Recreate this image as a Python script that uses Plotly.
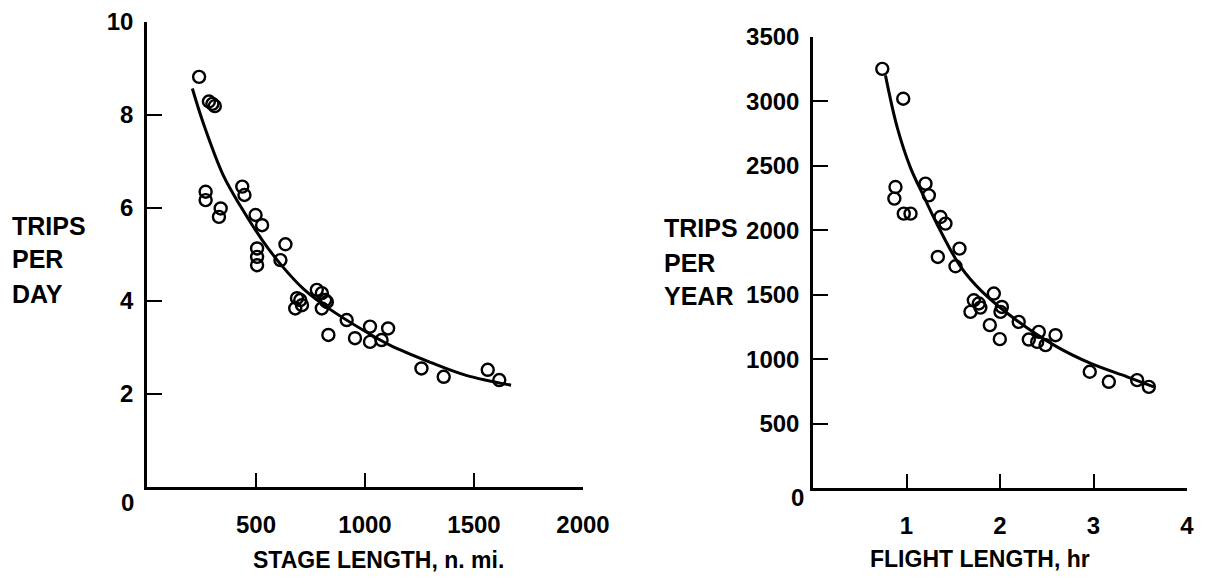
import plotly.graph_objects as go

# ---- Left panel data: trips per day vs stage length ----
stage_x = [239, 284, 300, 311, 269, 269, 338, 330, 437, 447, 498, 528, 505, 505, 505,
           635, 612, 688, 703, 680, 711, 779, 802, 817, 802, 825, 832, 916, 1023, 1106,
           954, 1023, 1076, 1259, 1361, 1563, 1616]
trips_day = [8.82, 8.29, 8.24, 8.19, 6.35, 6.17, 5.99, 5.81, 6.46, 6.28, 5.85, 5.63, 5.13, 4.95, 4.77,
             5.22, 4.88, 4.06, 4.02, 3.84, 3.91, 4.24, 4.17, 4.02, 3.84, 3.98, 3.27, 3.59, 3.45, 3.41,
             3.20, 3.12, 3.16, 2.55, 2.37, 2.52, 2.30]
curve_stage_x = [208, 260, 350, 430, 530, 620, 720, 840, 1000, 1114, 1300, 1464, 1670]
curve_trips_day = [8.57, 7.8, 6.7, 6.03, 5.3, 4.75, 4.25, 3.82, 3.35, 3.05, 2.68, 2.4, 2.19]

# ---- Right panel data: trips per year vs flight length ----
flight_x = [0.741, 0.965, 0.882, 0.870, 0.971, 1.043, 1.203, 1.239, 1.364, 1.417, 1.567, 1.335,
            1.524, 1.934, 1.720, 1.773, 1.684, 1.790, 2.020, 2.005, 1.891, 1.998, 2.200, 2.415,
            2.594, 2.308, 2.398, 2.487, 2.960, 3.164, 3.467, 3.592]
trips_year = [3253, 3021, 2336, 2246, 2129, 2129, 2362, 2271, 2103, 2052, 1858, 1793,
              1721, 1509, 1457, 1432, 1367, 1400, 1405, 1367, 1264, 1155, 1289, 1212,
              1186, 1152, 1134, 1109, 902, 824, 837, 785]
curve_flight_x = [0.775, 0.9, 1.04, 1.19, 1.36, 1.58, 1.8, 2.18, 2.61, 2.97, 3.36, 3.645]
curve_trips_year = [3202, 2800, 2490, 2255, 2000, 1716, 1530, 1300, 1095, 967, 863, 785]

left_xticks = [500, 1000, 1500, 2000]
left_yticks = [2, 4, 6, 8, 10]
right_xticks = [1, 2, 3, 4]
right_yticks = [500, 1000, 1500, 2000, 2500, 3000, 3500]

FONT = "Liberation Sans, Arial, sans-serif"
W, H = 1205, 584
OFF = 8  # page body margin in the browser

def px(x):
    return (x - OFF) / W

def py(y):
    return 1 - (y - OFF) / H

marker = dict(symbol="circle-open", size=12, color="black", line=dict(width=2.4, color="black"))

fig = go.Figure()
fig.add_trace(go.Scatter(x=curve_stage_x, y=curve_trips_day, mode="lines",
                         line=dict(color="black", width=3, shape="spline", smoothing=1.0),
                         xaxis="x", yaxis="y", showlegend=False, hoverinfo="skip"))
fig.add_trace(go.Scatter(x=stage_x, y=trips_day, mode="markers", marker=marker,
                         xaxis="x", yaxis="y", showlegend=False, cliponaxis=False))
fig.add_trace(go.Scatter(x=curve_flight_x, y=curve_trips_year, mode="lines",
                         line=dict(color="black", width=3, shape="spline", smoothing=1.0),
                         xaxis="x2", yaxis="y2", showlegend=False, hoverinfo="skip"))
fig.add_trace(go.Scatter(x=flight_x, y=trips_year, mode="markers", marker=marker,
                         xaxis="x2", yaxis="y2", showlegend=False, cliponaxis=False))

tickfont = dict(family=FONT, size=24, color="black", weight="bold")

def xax(domain, rng, vals, anchor):
    return dict(domain=domain, range=rng, tickvals=vals, ticktext=[str(v) for v in vals],
                showline=True, linecolor="black", linewidth=2.5, ticks="inside", ticklen=14,
                tickwidth=2, tickcolor="black", showgrid=False, zeroline=False,
                tickfont=tickfont, anchor=anchor, ticklabelstandoff=14, fixedrange=True,
                automargin=False)

def yax(domain, rng, vals, anchor):
    return dict(domain=domain, range=rng, tickvals=vals, ticktext=[str(v) for v in vals],
                showline=True, linecolor="black", linewidth=2.5, ticks="inside", ticklen=15,
                tickwidth=2, tickcolor="black", showgrid=False, zeroline=False,
                tickfont=tickfont, anchor=anchor, ticklabelstandoff=6, fixedrange=True,
                automargin=False)

fig.update_layout(
    width=W, height=H,
    margin=dict(l=0, r=0, t=0, b=0, pad=0, autoexpand=False),
    paper_bgcolor="white", plot_bgcolor="white",
    xaxis=xax([px(147), px(583)], [0, 2000], left_xticks, "y"),
    yaxis=yax([py(487), py(22)], [0, 10], left_yticks, "x"),
    xaxis2=xax([px(813), px(1187)], [0, 4], right_xticks, "y2"),
    yaxis2=yax([py(488), py(37)], [0, 3500], right_yticks, "x2"),
)

def ann(text, x, y, size, xanchor="center"):
    fig.add_annotation(text=text, x=px(x), y=py(y), xref="paper", yref="paper",
                       showarrow=False, xanchor=xanchor, yanchor="middle",
                       font=dict(family=FONT, size=size, color="black", weight="bold"))

# origin zero labels
ann("0", 127, 502, 24)
ann("0", 797, 497, 24)
# axis titles
ann("STAGE LENGTH, n. mi.", 378, 560, 23)
ann("FLIGHT LENGTH, hr", 980, 559, 23)
ann("TRIPS", 10, 226, 25, "left")
ann("PER", 10, 259, 25, "left")
ann("DAY", 10, 294, 25, "left")
ann("TRIPS", 662, 228, 25, "left")
ann("PER", 662, 263, 25, "left")
ann("YEAR", 662, 296, 25, "left")

fig.write_html("out.html")
